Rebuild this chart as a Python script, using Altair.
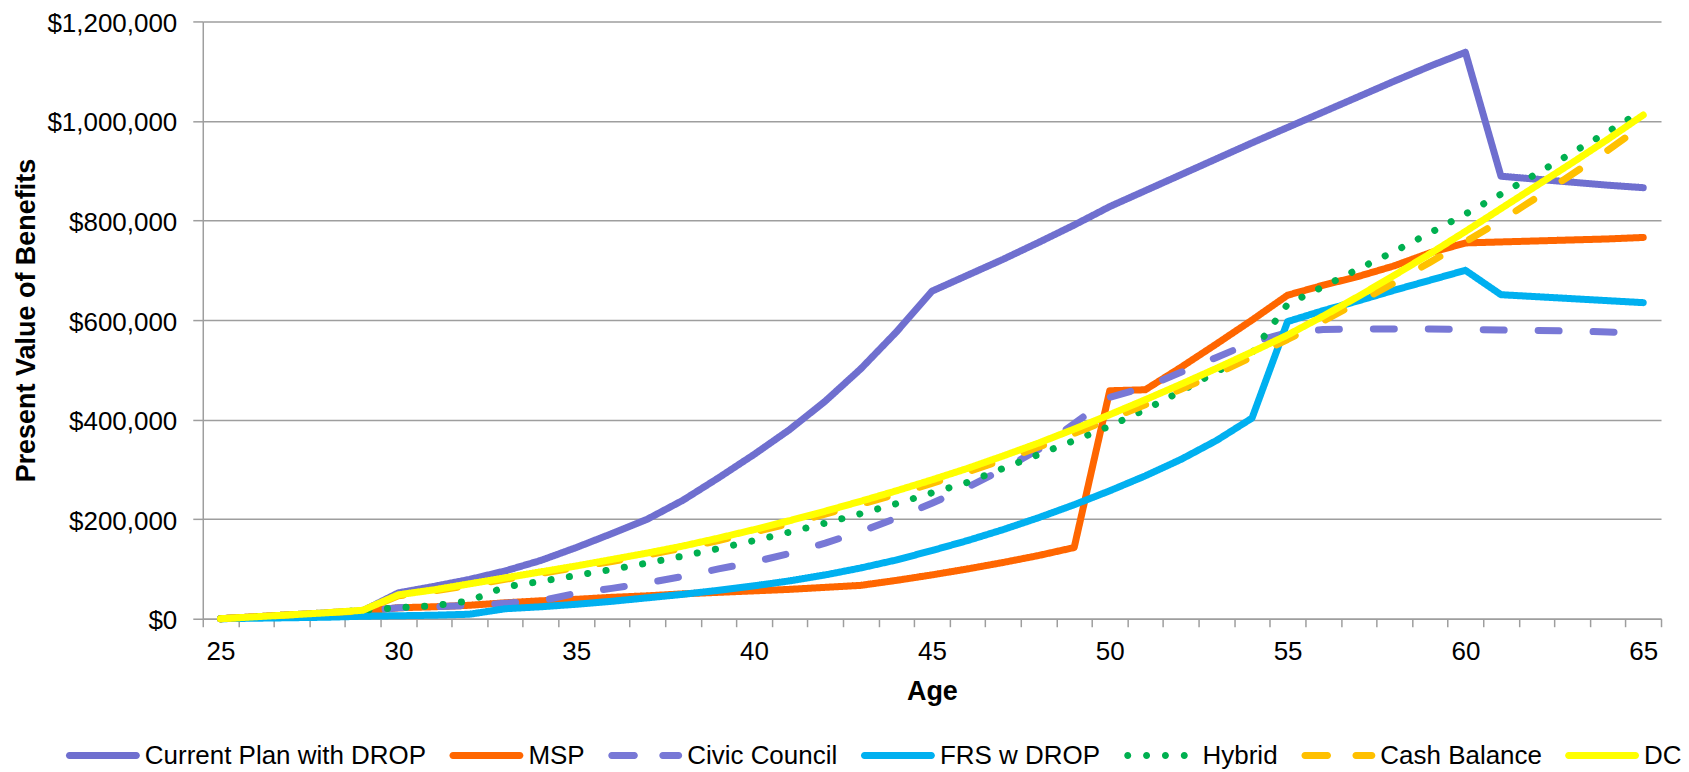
import altair as alt
import pandas as pd

ages = list(range(25, 66))

plans = ["Current Plan with DROP", "MSP", "Civic Council", "FRS w DROP",
         "Hybrid", "Cash Balance", "DC"]

current = [0, 4000, 8000, 12000, 16000, 52000, 65000, 79000, 96000, 117000,
           143000, 171000, 200000, 238000, 283000, 330000, 380000, 437000, 502000, 576000,
           658000, 690000, 722000, 756000, 791000, 828000, 860000, 892000, 924000, 956000,
           987000, 1018000, 1049000, 1080000, 1110000, 1138000, 889000, 883000, 877000, 871000,
           866000]
msp = [0, 4000, 8000, 11000, 15000, 22000, 24000, 27000, 32000, 36000,
       39000, 43000, 46000, 50000, 53000, 56000, 59000, 63000, 67000, 77000,
       88000, 100000, 113000, 127000, 143000, 458000, 460000, 505000, 552000, 600000,
       650000, 670000, 688000, 709000, 735000, 755000, 757000, 759000, 761000, 763000,
       766000]
civic = [0, 4000, 8000, 11000, 15000, 22000, 24000, 27000, 31000, 36000,
         51000, 61000, 72000, 85000, 100000, 114000, 131000, 152000, 175000, 202000,
         232000, 264000, 300000, 340000, 392000, 445000, 465000, 495000, 525000, 555000,
         575000, 581000, 582000, 582000, 582000, 581000, 580000, 579000, 578000, 576000,
         574000]
frs = [0, 1000, 2000, 3000, 5000, 6000, 7000, 9000, 20000, 24000,
       29000, 35000, 42000, 49000, 57000, 66000, 76000, 88000, 102000, 118000,
       137000, 157000, 179000, 203000, 229000, 257000, 287000, 320000, 358000, 403000,
       597000, 619000, 639000, 660000, 680000, 700000, 651000, 647000, 643000, 639000,
       635000]
hybrid = [0, 4000, 8000, 12000, 17000, 22000, 26000, 36000, 64000, 75000,
          87000, 99000, 112000, 126000, 141000, 157000, 174000, 192000, 211000, 231000,
          253000, 274000, 302000, 330000, 358000, 387000, 420000, 457000, 496000, 534000,
          632000, 667000, 703000, 738000, 775000, 813000, 853000, 894000, 936000, 978000,
          1022000]
cash = [0, 4000, 8000, 12000, 16000, 46000, 56000, 67000, 79000, 91000,
        103000, 115000, 128000, 142000, 157000, 174000, 191000, 210000, 230000, 250000,
        272000, 295000, 319000, 345000, 372000, 401000, 430000, 461000, 492000, 526000,
        561000, 598000, 636000, 675000, 716000, 757000, 800000, 846000, 893000, 941000,
        992000]
dc = [0, 4000, 8000, 12000, 17000, 48000, 58000, 70000, 82000, 94000,
      106000, 119000, 132000, 146000, 162000, 179000, 197000, 216000, 236000, 257000,
      279000, 302000, 327000, 353000, 381000, 410000, 440000, 471000, 503000, 536000,
      570000, 608000, 648000, 690000, 733000, 778000, 824000, 870000, 916000, 963000,
      1012000]

series = [current, msp, civic, frs, hybrid, cash, dc]
colors = ["#6F6FCF", "#FF6600", "#7878D6", "#00B0F0", "#00B050", "#FFC000", "#FFFF00"]
dashes = [[1, 0], [1, 0], [21, 34], [1, 0], [0.1, 18.5], [21, 34], [1, 0]]
y_ticks = [0, 200000, 400000, 600000, 800000, 1000000, 1200000]

rows = []
for plan, vals in zip(plans, series):
    for a, v in zip(ages, vals):
        rows.append({"Age": a, "Plan": plan, "Value": v})
df = pd.DataFrame(rows)

FONT = "Liberation Sans, Arial, sans-serif"
GRAY = "#9E9E9E"

# legend symbol shapes (unit path space, -1..1 spans the symbol length)
R = 0.095


def seg(a, b):
    return (f"M{a + R},{-R}L{b - R},{-R}A{R},{R},0,0,1,{b - R},{R}"
            f"L{a + R},{R}A{R},{R},0,0,1,{a + R},{-R}Z")


def dot(cx):
    return f"M{cx - R},0A{R},{R},0,1,1,{cx + R},0A{R},{R},0,1,1,{cx - R},0Z"


solid_sym = seg(-1, 1)
dash_sym = seg(-1, -0.2) + seg(0.38, 1)
dot_sym = dot(-0.89) + dot(-0.38) + dot(0.13) + dot(0.64)
shapes = [solid_sym, solid_sym, dash_sym, solid_sym, dot_sym, dash_sym, solid_sym]

lk = dict(title=None, orient="none", direction="horizontal", columns=7,
          legendX=-137, legendY=698, symbolSize=5476, symbolStrokeWidth=0,
          symbolOpacity=1, labelFontSize=26, labelFont=FONT,
          labelColor="#000000", columnPadding=23, labelOffset=5,
          labelLimit=500, padding=0)

x_enc = alt.X("Age:O",
              scale=alt.Scale(type="band", paddingInner=0, paddingOuter=0),
              axis=alt.Axis(title="Age", labelExpr="datum.value % 5 == 0 ? datum.label : ''",
                            labelAngle=0, tickBand="extent", tickSize=8, labelPadding=12,
                            grid=False, labelOverlap=False, labelFontSize=26,
                            labelFont=FONT, labelColor="#000000",
                            domainColor=GRAY, domainWidth=1.5, tickColor=GRAY,
                            tickWidth=1.5, titleFont=FONT, titleFontSize=27,
                            titleFontWeight="bold", titleColor="#000000",
                            titlePadding=14))
y_enc = alt.Y("Value:Q",
              scale=alt.Scale(domain=[0, 1200000], nice=False),
              axis=alt.Axis(title="Present Value of Benefits", values=y_ticks,
                            format="$,.0f", tickSize=10, labelPadding=16,
                            labelOffset=2,
                            labelFontSize=26, labelFont=FONT, labelColor="#000000",
                            domainColor=GRAY, domainWidth=1.5, tickColor=GRAY,
                            tickWidth=1.5, gridColor=GRAY, gridWidth=1.5,
                            titleFont=FONT, titleFontSize=27, titleFontWeight="bold",
                            titleColor="#000000", titlePadding=6))

legend_layer = alt.Chart(df).transform_filter("false").mark_point(
    filled=True, opacity=1
).encode(
    x=x_enc,
    y=y_enc,
    color=alt.Color("Plan:N", scale=alt.Scale(domain=plans, range=colors),
                    legend=alt.Legend(**lk)),
    shape=alt.Shape("Plan:N", scale=alt.Scale(domain=plans, range=shapes),
                    legend=alt.Legend(**lk)),
)

lines = alt.Chart(df).mark_line(strokeWidth=7, strokeCap="round", strokeJoin="round").encode(
    x=x_enc,
    y=y_enc,
    color=alt.Color("Plan:N", scale=alt.Scale(domain=plans, range=colors),
                    legend=alt.Legend(**lk)),
    strokeDash=alt.StrokeDash("Plan:N", scale=alt.Scale(domain=plans, range=dashes),
                              legend=None),
)

chart = alt.layer(legend_layer, lines).properties(
    width=1460, height=598,
    autosize=alt.AutoSizeParams(type="none"),
    padding={"left": 195, "top": 13, "right": 20, "bottom": 150},
).configure_view(strokeWidth=0)

chart.save("out.html", embed_options={"renderer": "svg", "actions": False})
